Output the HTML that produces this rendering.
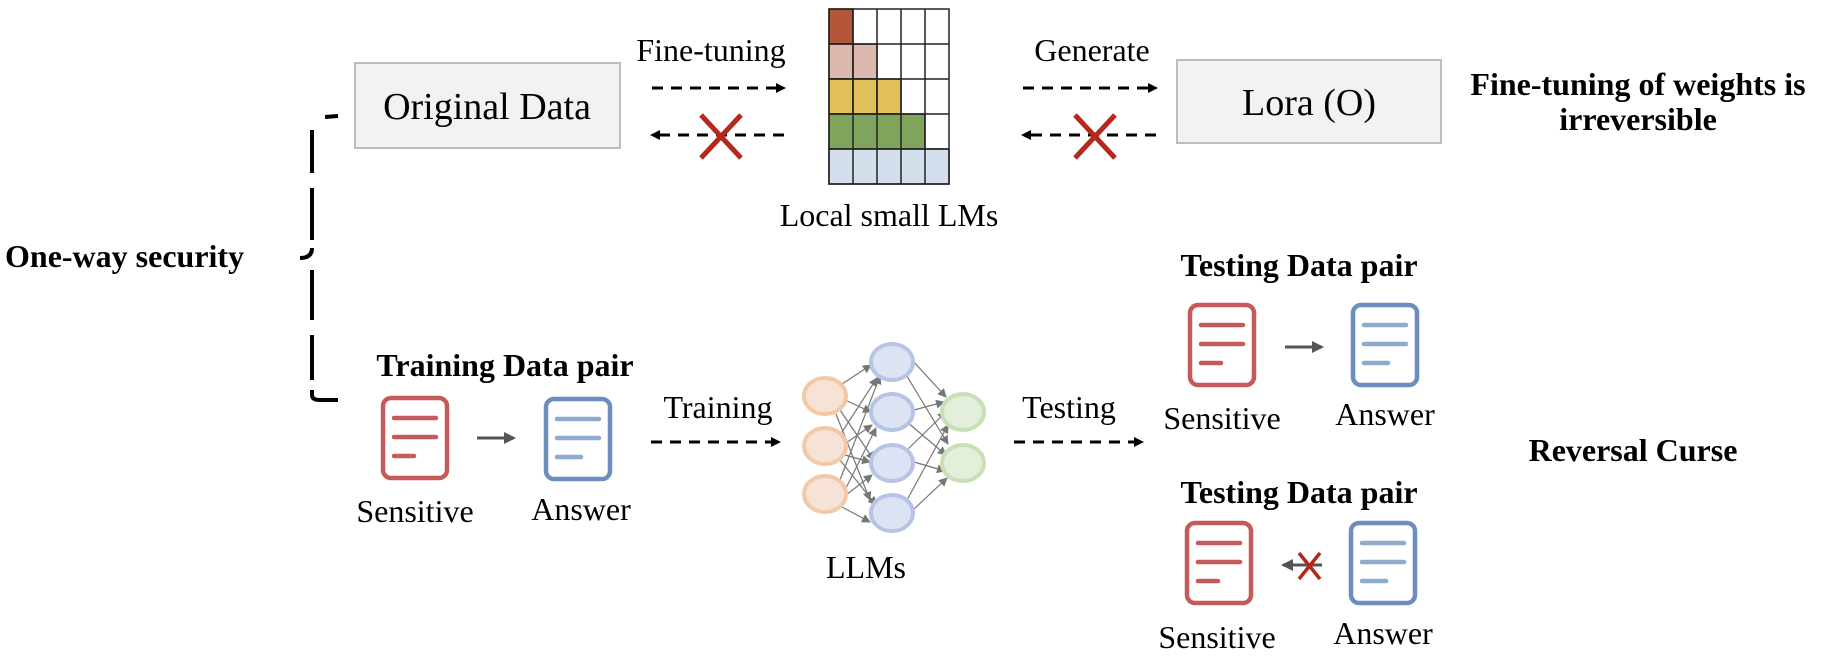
<!DOCTYPE html>
<html><head><meta charset="utf-8"><style>
html,body{margin:0;padding:0;background:#fff;}
svg{display:block;}
text{font-family:"Liberation Serif",serif;fill:#000;}
.b{font-weight:bold;}
</style></head><body>
<svg width="1822" height="660" viewBox="0 0 1822 660" xmlns="http://www.w3.org/2000/svg">
<defs>
<marker id="ah" markerWidth="10" markerHeight="10" refX="8" refY="5" orient="auto" markerUnits="userSpaceOnUse">
<path d="M0,0 L10,5 L0,10 z" fill="#000"/></marker>
<marker id="ag" markerWidth="12" markerHeight="12" refX="10" refY="6" orient="auto" markerUnits="userSpaceOnUse">
<path d="M0,0 L12,6 L0,12 z" fill="#555"/></marker>
<marker id="an" markerWidth="9" markerHeight="9" refX="8" refY="4.5" orient="auto" markerUnits="userSpaceOnUse">
<path d="M0,0 L9,4.5 L0,9 z" fill="#777"/></marker>
<g id="docR">
<rect x="3" y="3" width="64" height="80" rx="8" fill="#fff" stroke="#c55a5a" stroke-width="4.5"/>
<line x1="14" y1="23" x2="56" y2="23" stroke="#c55a5a" stroke-width="4.5" stroke-linecap="round"/>
<line x1="14" y1="42" x2="56" y2="42" stroke="#c55a5a" stroke-width="4.5" stroke-linecap="round"/>
<line x1="14" y1="61" x2="34" y2="61" stroke="#c55a5a" stroke-width="4.5" stroke-linecap="round"/>
</g>
<g id="docB">
<rect x="3" y="3" width="64" height="80" rx="8" fill="#fff" stroke="#6c8ebf" stroke-width="4.5"/>
<line x1="14" y1="23" x2="56" y2="23" stroke="#8eaacc" stroke-width="4.5" stroke-linecap="round"/>
<line x1="14" y1="42" x2="56" y2="42" stroke="#8eaacc" stroke-width="4.5" stroke-linecap="round"/>
<line x1="14" y1="61" x2="38" y2="61" stroke="#8eaacc" stroke-width="4.5" stroke-linecap="round"/>
</g>
</defs>

<rect x="355" y="63" width="265" height="85" fill="#f2f2f2" stroke="#bdbdbd" stroke-width="2"/>
<text x="487" y="119" font-size="38" text-anchor="middle">Original Data</text>
<text x="711" y="61" font-size="32" text-anchor="middle">Fine-tuning</text>
<line x1="652" y1="88" x2="784" y2="88" stroke="#000" stroke-width="3" stroke-dasharray="11,8" marker-end="url(#ah)"/>
<line x1="784" y1="135" x2="652" y2="135" stroke="#000" stroke-width="3" stroke-dasharray="11,8" marker-end="url(#ah)"/>
<path d="M701,115 L741,158 M741,115 L701,158" stroke="#b5281c" stroke-width="5"/>

<g stroke="#222" stroke-width="1.5">
<rect x="829" y="9" width="24" height="35" fill="#b25538"/>
<rect x="829" y="44" width="24" height="35" fill="#dbb9ae"/><rect x="853" y="44" width="24" height="35" fill="#dbb9ae"/>
<rect x="829" y="79" width="24" height="35" fill="#e2c05a"/><rect x="853" y="79" width="24" height="35" fill="#e2c05a"/><rect x="877" y="79" width="24" height="35" fill="#e2c05a"/>
<rect x="829" y="114" width="96" height="35" fill="#7fa55c"/>
<rect x="829" y="149" width="120" height="35" fill="#d4dfee"/>
<rect x="829" y="9" width="120" height="175" fill="none"/>
<path d="M853,9V184 M877,9V184 M901,9V184 M925,9V184 M829,44H949 M829,79H949 M829,114H949 M829,149H949"/>
</g>
<text x="889" y="226" font-size="32" text-anchor="middle">Local small LMs</text>

<text x="1092" y="61" font-size="32" text-anchor="middle">Generate</text>
<line x1="1023" y1="88" x2="1156" y2="88" stroke="#000" stroke-width="3" stroke-dasharray="11,8" marker-end="url(#ah)"/>
<line x1="1156" y1="135" x2="1023" y2="135" stroke="#000" stroke-width="3" stroke-dasharray="11,8" marker-end="url(#ah)"/>
<path d="M1075,115 L1115,158 M1115,115 L1075,158" stroke="#b5281c" stroke-width="5"/>
<rect x="1177" y="60" width="264" height="83" fill="#f2f2f2" stroke="#bdbdbd" stroke-width="2"/>
<text x="1309" y="115" font-size="38" text-anchor="middle">Lora (O)</text>
<text x="1638" y="95" font-size="32" class="b" text-anchor="middle">Fine-tuning of weights is</text>
<text x="1638" y="130" font-size="32" class="b" text-anchor="middle">irreversible</text>

<g stroke="#000" stroke-width="4" fill="none">
<line x1="325" y1="117" x2="338" y2="116"/>
<line x1="312" y1="130" x2="312" y2="173"/>
<line x1="312" y1="188" x2="312" y2="240"/>
<path d="M312,248 Q312,258 300,258"/>
<line x1="312" y1="270" x2="312" y2="320"/>
<line x1="312" y1="335" x2="312" y2="380"/>
<path d="M312,390 V395 Q312,400 320,400 H338"/>
</g>
<text x="5" y="267" font-size="32" class="b">One-way security</text>

<text x="505" y="376" font-size="32" class="b" text-anchor="middle">Training Data pair</text>
<use href="#docR" x="380" y="395"/>
<use href="#docB" x="543" y="396"/>
<line x1="477" y1="438" x2="514" y2="438" stroke="#555" stroke-width="3" marker-end="url(#ag)"/>
<text x="415" y="522" font-size="32" text-anchor="middle">Sensitive</text>
<text x="581" y="520" font-size="32" text-anchor="middle">Answer</text>
<text x="718" y="418" font-size="32" text-anchor="middle">Training</text>
<line x1="651" y1="442" x2="779" y2="442" stroke="#000" stroke-width="3" stroke-dasharray="11,8" marker-end="url(#ah)"/>

<g stroke="#777" stroke-width="1.2" marker-end="url(#an)">
<line x1="842" y1="384" x2="871" y2="365"/><line x1="845" y1="400" x2="871" y2="412"/><line x1="840" y1="410" x2="874" y2="460"/><line x1="836" y1="414" x2="870" y2="500"/>
<line x1="842" y1="432" x2="877" y2="378"/><line x1="846" y1="443" x2="872" y2="425"/><line x1="845" y1="455" x2="870" y2="462"/><line x1="840" y1="460" x2="876" y2="505"/>
<line x1="840" y1="480" x2="880" y2="376"/><line x1="846" y1="488" x2="876" y2="428"/><line x1="846" y1="495" x2="872" y2="475"/><line x1="842" y1="507" x2="870" y2="522"/>
<line x1="912" y1="360" x2="946" y2="397"/><line x1="905" y1="373" x2="948" y2="444"/>
<line x1="914" y1="410" x2="944" y2="402"/><line x1="907" y1="422" x2="946" y2="455"/>
<line x1="907" y1="450" x2="946" y2="412"/><line x1="914" y1="462" x2="945" y2="471"/>
<line x1="907" y1="500" x2="948" y2="425"/><line x1="913" y1="510" x2="947" y2="478"/>
</g>
<g stroke-width="4">
<ellipse cx="825" cy="396" rx="21" ry="18" fill="#f6e3d6" stroke="#f1c9a8"/>
<ellipse cx="825" cy="446" rx="21" ry="18" fill="#f6e3d6" stroke="#f1c9a8"/>
<ellipse cx="825" cy="494" rx="21" ry="18" fill="#f6e3d6" stroke="#f1c9a8"/>
<ellipse cx="892" cy="362" rx="21" ry="18" fill="#dce3f3" stroke="#b6c5e6"/>
<ellipse cx="892" cy="412" rx="21" ry="18" fill="#dce3f3" stroke="#b6c5e6"/>
<ellipse cx="892" cy="463" rx="21" ry="18" fill="#dce3f3" stroke="#b6c5e6"/>
<ellipse cx="892" cy="513" rx="21" ry="18" fill="#dce3f3" stroke="#b6c5e6"/>
<ellipse cx="963" cy="412" rx="21" ry="18" fill="#e3efdb" stroke="#c7e0b6"/>
<ellipse cx="963" cy="463" rx="21" ry="18" fill="#e3efdb" stroke="#c7e0b6"/>
</g>
<text x="866" y="578" font-size="32" text-anchor="middle">LLMs</text>

<text x="1069" y="418" font-size="32" text-anchor="middle">Testing</text>
<line x1="1014" y1="442" x2="1142" y2="442" stroke="#000" stroke-width="3" stroke-dasharray="11,8" marker-end="url(#ah)"/>

<text x="1299" y="276" font-size="32" class="b" text-anchor="middle">Testing Data pair</text>
<use href="#docR" x="1187" y="302"/>
<use href="#docB" x="1350" y="302"/>
<line x1="1285" y1="347" x2="1322" y2="347" stroke="#555" stroke-width="3" marker-end="url(#ag)"/>
<text x="1222" y="429" font-size="32" text-anchor="middle">Sensitive</text>
<text x="1385" y="425" font-size="32" text-anchor="middle">Answer</text>

<text x="1633" y="461" font-size="32" class="b" text-anchor="middle">Reversal Curse</text>

<text x="1299" y="503" font-size="32" class="b" text-anchor="middle">Testing Data pair</text>
<use href="#docR" x="1184" y="520"/>
<use href="#docB" x="1348" y="520"/>
<line x1="1322" y1="565" x2="1283" y2="565" stroke="#555" stroke-width="3" marker-end="url(#ag)"/>
<path d="M1299,553 L1320,579 M1320,553 L1299,579" stroke="#b5281c" stroke-width="3.5"/>
<text x="1217" y="648" font-size="32" text-anchor="middle">Sensitive</text>
<text x="1383" y="644" font-size="32" text-anchor="middle">Answer</text>
</svg>
</body></html>
